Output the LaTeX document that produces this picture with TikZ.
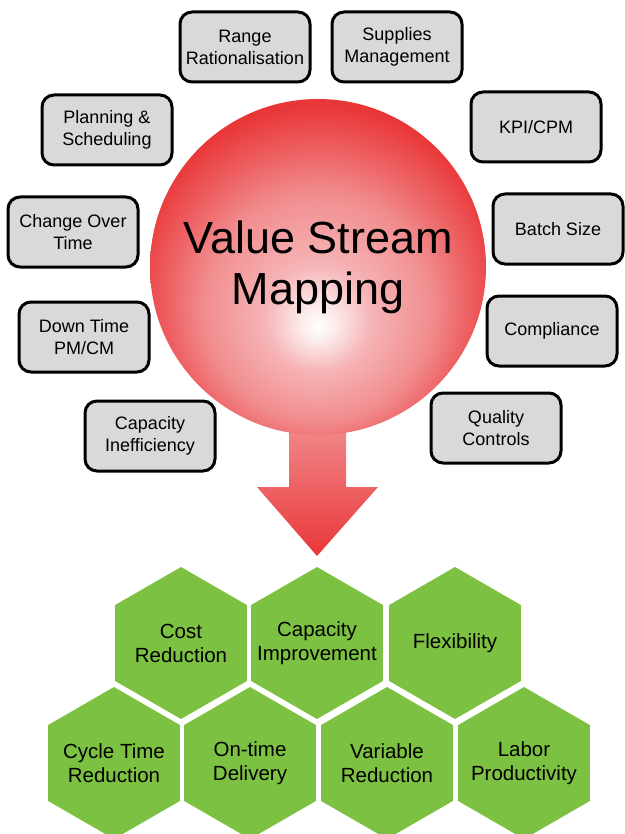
\documentclass[tikz,border=0pt]{standalone}
\usepackage{fontspec}
\setmainfont{Liberation Sans}
\usetikzlibrary{shapes.geometric}

\definecolor{vsmred}{RGB}{233,55,56}
\definecolor{vsmmid}{RGB}{237,92,94}
\definecolor{vsmpink}{RGB}{241,140,142}
\definecolor{vsmlight}{RGB}{246,180,182}
\definecolor{vsmglow}{RGB}{252,236,236}
\definecolor{boxgray}{RGB}{217,217,219}
\definecolor{hexgreen}{RGB}{125,193,66}

\pgfdeclareradialshading{vsmball}{\pgfpoint{0bp}{-9bp}}{%
  color(0bp)=(white); color(2.5bp)=(vsmglow); color(8bp)=(vsmlight);
  color(17bp)=(vsmpink); color(23bp)=(vsmmid); color(28bp)=(vsmred);
  color(50bp)=(vsmred)}

\begin{document}
\begin{tikzpicture}[x=1pt, y=-1pt,
  lever/.style = {draw, line width=3pt, fill=boxgray, rounded corners=12pt,
                  minimum width=130pt, minimum height=70pt, inner sep=2pt,
                  align=center, font=\fontsize{18}{22}\selectfont},
  gain/.style  = {regular polygon, regular polygon sides=6, shape border rotate=90,
                  fill=hexgreen, minimum size=152pt, inner sep=0pt},
  gaintxt/.style = {align=center, inner sep=0pt, font=\fontsize{20.5}{24}\selectfont},
  ball/.style  = {circle, minimum size=336pt, inner sep=0pt, shading=vsmball,
                  align=center, font=\fontsize{45}{51}\selectfont}
]
\useasboundingbox (0,0) rectangle (624,834);

% --- fleche vers les gains ---
\shade[top color=vsmpink, bottom color=vsmred]
  (289,420) -- (346,420) -- (346,487) -- (378,487) -- (317,556)
  -- (257,487) -- (289,487) -- cycle;

% --- boule centrale ---
\node[ball] (vsm) at (318,267) {Value Stream\\Mapping};

% --- leviers autour ---
\node[lever] (range)      at (245,47)  {Range\\Rationalisation};
\node[lever] (supplies)   at (397,47)  {Supplies\\Management};
\node[lever] (planning)   at (107,130) {Planning \&\\Scheduling};
\node[lever] (kpi)        at (536,127) {KPI/CPM};
\node[lever] (changeover) at (73,232)  {Change Over\\Time};
\node[lever] (batch)      at (558,229) {Batch Size};
\node[lever] (downtime)   at (84,337)  {Down Time\\PM/CM};
\node[lever] (compliance) at (552,331) {Compliance};
\node[lever] (capacity)   at (150,436) {Capacity\\Inefficiency};
\node[lever] (quality)    at (496,428) {Quality\\Controls};

% --- gains : rangee 1 ---
\node[gain, label={[gaintxt]center:Cost\\Reduction}]       (cost)     at (181,643) {};
\node[gain, label={[gaintxt]center:Capacity\\Improvement}] (capimp)   at (317,643) {};
\node[gain, label={[gaintxt]center:Flexibility}]           (flex)     at (455,643) {};

% --- gains : rangee 2 ---
\node[gain, label={[gaintxt]center:Cycle Time\\Reduction}] (cycle)    at (114,763) {};
\node[gain, label={[gaintxt]center:On-time\\Delivery}]     (ontime)   at (250,763) {};
\node[gain, label={[gaintxt]center:Variable\\Reduction}]   (variable) at (387,763) {};
\node[gain, label={[gaintxt]center:Labor\\Productivity}]   (labor)    at (524,763) {};
\end{tikzpicture}
\end{document}
